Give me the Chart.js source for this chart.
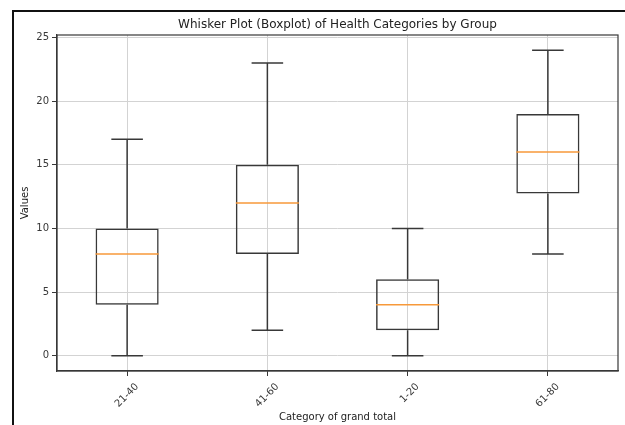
<!DOCTYPE html>
<html>
<head>
<meta charset="utf-8">
<script src="https://cdn.jsdelivr.net/npm/chart.js@4.4.1/dist/chart.umd.min.js"></script>
<style>
  html, body { margin: 0; padding: 0; background: #ffffff; overflow: hidden; }
  #wrap { position: relative; width: 625px; height: 425px; }
  #frame { position: absolute; left: 12px; top: 10px; width: 700px; height: 500px;
           border-top: 2px solid #111; border-left: 2px solid #111; }
  canvas { position: absolute; left: 0; top: 0; }
</style>
</head>
<body>
<div id="wrap">
  <div id="frame"></div>
  <canvas id="c" width="625" height="425"></canvas>
</div>
<script>
const categories = ['21-40', '41-60', '1-20', '61-80'];
const mins    = [0, 2, 0, 8];
const q1s     = [4, 8, 2, 12.75];
const medians = [8, 12, 4, 16];
const q3s     = [10, 15, 6, 19];
const maxs    = [17, 23, 10, 24];
const yTickValues = [0, 5, 10, 15, 20, 25];

const chartTitle = 'Whisker Plot (Boxplot) of Health Categories by Group';
const xTitle = 'Category of grand total';
const yTitle = 'Values';

const FONT = 'DejaVu Sans';
const DARK = '#383838';
const GRID = '#d3d3d3';
const ORANGE = '#f7993a';

const boxPlugin = {
  id: 'boxWhiskers',
  afterDatasetsDraw(chart) {
    const ctx = chart.ctx;
    const ys = chart.scales.y;
    const meta = chart.getDatasetMeta(0);
    ctx.save();
    categories.forEach((c, i) => {
      const bar = meta.data[i];
      const cx = bar.x;
      const hw = bar.width / 2;
      const capHw = hw / 2;
      const yMin = ys.getPixelForValue(mins[i]);
      const yQ1 = ys.getPixelForValue(q1s[i]);
      const yQ3 = ys.getPixelForValue(q3s[i]);
      const yMax = ys.getPixelForValue(maxs[i]);
      const yMed = ys.getPixelForValue(medians[i]);
      ctx.strokeStyle = DARK;
      ctx.lineWidth = 1.5;
      ctx.beginPath();
      ctx.moveTo(cx, yMin); ctx.lineTo(cx, yQ1);
      ctx.moveTo(cx, yQ3); ctx.lineTo(cx, yMax);
      ctx.moveTo(cx - capHw, yMin); ctx.lineTo(cx + capHw, yMin);
      ctx.moveTo(cx - capHw, yMax); ctx.lineTo(cx + capHw, yMax);
      ctx.stroke();
      ctx.strokeStyle = ORANGE;
      ctx.lineWidth = 1.5;
      ctx.beginPath();
      ctx.moveTo(cx - hw, yMed); ctx.lineTo(cx + hw, yMed);
      ctx.stroke();
    });
    ctx.restore();
  },
  afterDraw(chart) {
    const a = chart.chartArea;
    const ctx = chart.ctx;
    ctx.save();
    ctx.strokeStyle = DARK;
    ctx.lineWidth = 1.2;
    ctx.strokeRect(a.left, a.top, a.right - a.left, a.bottom - a.top);
    ctx.restore();
  }
};

new Chart(document.getElementById('c'), {
  type: 'bar',
  data: {
    labels: categories,
    datasets: [{
      data: categories.map((c, i) => [q1s[i], q3s[i]]),
      backgroundColor: 'rgba(0,0,0,0)',
      borderColor: DARK,
      borderWidth: 1.5,
      borderSkipped: false,
      barPercentage: 0.45,
      categoryPercentage: 1
    }]
  },
  options: {
    responsive: false,
    animation: false,
    devicePixelRatio: 1,
    layout: { padding: { left: 0, right: 7, top: 0, bottom: 0 } },
    plugins: {
      legend: { display: false },
      tooltip: { enabled: false },
      title: { display: false }
    },
    scales: {
      x: {
        type: 'category',
        offset: true,
        grid: { display: true, offset: false, color: GRID, lineWidth: 1, tickColor: DARK, tickLength: 5 },
        border: { display: true, color: DARK, width: 1.2 },
        ticks: { maxRotation: 45, minRotation: 45, color: DARK, font: { family: FONT, size: 10 }, labelOffset: 10, padding: 5 },
        title: { display: true, text: xTitle, color: '#222', font: { family: FONT, size: 10 }, padding: { top: 0, bottom: 2 } },
        afterFit(s) { s.height = 54; }
      },
      xTop: {
        type: 'category',
        position: 'top',
        labels: categories,
        offset: true,
        grid: { display: false },
        border: { display: false },
        ticks: { display: false },
        title: { display: true, text: chartTitle, color: '#222', font: { family: FONT, size: 12 }, padding: { top: 18, bottom: 0 } },
        afterFit(s) { s.height = 35; }
      },
      y: {
        min: -1.2,
        max: 25.2,
        afterBuildTicks(s) { s.ticks = yTickValues.map(v => ({ value: v })); },
        grid: { color: GRID, lineWidth: 1, tickColor: DARK, tickLength: 5 },
        border: { display: true, color: DARK, width: 1.2 },
        ticks: { color: DARK, font: { family: FONT, size: 10 }, padding: 3 },
        title: { display: true, text: yTitle, color: '#222', font: { family: FONT, size: 10 }, padding: { top: 19, bottom: 0 } },
        afterFit(s) { s.width = 57; }
      }
    }
  },
  plugins: [boxPlugin]
});
</script>
</body>
</html>
